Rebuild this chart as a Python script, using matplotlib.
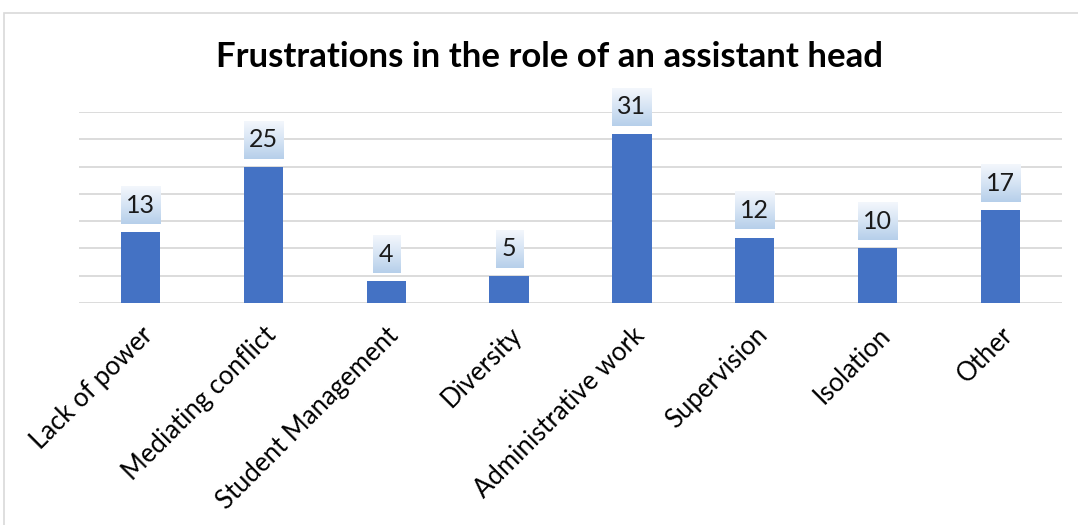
import matplotlib.pyplot as plt
import numpy as np
from matplotlib.patches import Rectangle
from matplotlib.colors import LinearSegmentedColormap

categories = ["Lack of power", "Mediating conflict", "Student Management", "Diversity",
              "Administrative work", "Supervision", "Isolation", "Other"]
counts = [13, 25, 4, 5, 31, 12, 10, 17]

plt.rcParams["font.family"] = ["Lato", "DejaVu Sans"]

fig = plt.figure(figsize=(10.78, 5.25), dpi=100)
fig.patch.set_facecolor("white")

# light frame around the chart area
fig.patches.append(Rectangle((4 / 1078, -0.1), 1.2, 1 - 13 / 525 + 0.1,
                             transform=fig.transFigure, fill=False,
                             edgecolor="#d9d9d9", linewidth=1.2))

ax = fig.add_axes([79 / 1078, 1 - 303 / 525, (1062 - 79) / 1078, (303 - 112) / 525])
x = np.arange(len(categories))
ax.bar(x, counts, width=0.32, color="#4472C4", zorder=3)

ax.set_yticks(np.arange(0, 36, 5))
ax.yaxis.grid(True, color="#d9d9d9", linewidth=1.3, zorder=0)
ax.tick_params(axis="y", left=False, labelleft=False)
ax.tick_params(axis="x", length=0, pad=14)
for s in ax.spines.values():
    s.set_visible(False)

ax.set_xticks(x)
ax.set_xticklabels(categories, rotation=45, ha="right", rotation_mode="anchor",
                   fontsize=18.5)

# data labels in gradient boxes
cmap = LinearSegmentedColormap.from_list("lbl", ["#b6cfea", "#d6e4f4", "#f3f7fc"])
grad = np.linspace(0, 1, 64).reshape(-1, 1)
bh, gap = 6.95, 1.47
for xi, v in zip(x, counts):
    bw = 0.12 + 0.1 * len(str(v))
    y0 = v + gap
    ax.imshow(grad, extent=(xi - bw / 2, xi + bw / 2, y0, y0 + bh), origin="lower",
              cmap=cmap, aspect="auto", zorder=4, clip_on=False)
    ax.text(xi, y0 + bh / 2, str(v), ha="center", va="center", fontsize=18,
            color="#1a1a1a", zorder=5, clip_on=False)

ax.set_xlim(-0.5, len(categories) - 0.5)
ax.set_ylim(0, 35)

fig.text(550 / 1078, 1 - 57 / 525, "Frustrations in the role of an assistant head",
         ha="center", va="center", fontsize=25, fontweight="bold", color="black")

fig.savefig("out.png", dpi=100)
